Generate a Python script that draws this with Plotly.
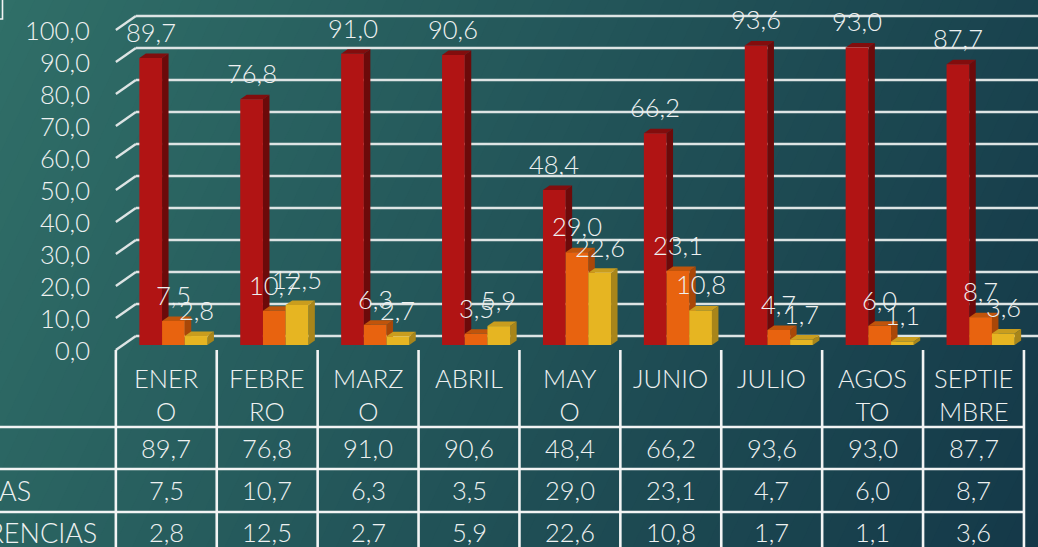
import plotly.graph_objects as go

# ---------------- data ----------------
categories = ["ENERO", "FEBRERO", "MARZO", "ABRIL", "MAYO", "JUNIO", "JULIO", "AGOSTO", "SEPTIEMBRE"]
category_labels = ["ENER<br>O", "FEBRE<br>RO", "MARZ<br>O", "ABRIL", "MAY<br>O", "JUNIO", "JULIO", "AGOS<br>TO", "SEPTIE<br>MBRE"]
series_names = ["ASISTENCIA", "INASISTENCIAS", "TRANSFERENCIAS"]
serie_1 = [89.7, 76.8, 91.0, 90.6, 48.4, 66.2, 93.6, 93.0, 87.7]
serie_2 = [7.5, 10.7, 6.3, 3.5, 29.0, 23.1, 4.7, 6.0, 8.7]
serie_3 = [2.8, 12.5, 2.7, 5.9, 22.6, 10.8, 1.7, 1.1, 3.6]
y_ticks = [0, 10, 20, 30, 40, 50, 60, 70, 80, 90, 100]

series = [serie_1, serie_2, serie_3]
front_colors = ["#b11414", "#e8630f", "#e6b522"]
side_colors = ["#6c0a0a", "#a94708", "#a8851a"]
top_colors = ["#820d0d", "#c0540b", "#c99d1e"]

FONT = "Lato"
FW = 300
TXT = "#eef1f1"
GRID = "#dde4e4"

# --------------- geometry (pixel scale of the linear axes) ---------------
W, H = 1038, 547
X0, SX = 173.4, 100.9     # pixel of category 0 (bar plane), pixels per category
Y0, SY = 345.0, 3.2       # pixel of value 0 (bar plane), pixels per unit


def px2x(px):
    return (px - X0) / SX


def py2v(py):
    return (Y0 - py) / SY


n = len(categories)
bargap = 0.325
bw = (1 - bargap) / 3
DDX, DDV = 6.5 / SX, 4.5 / SY          # bar depth
FX, FV = -7.1 / SX, -5.0 / SY          # front plane offset
BX, BV = 12.9 / SX, 9.0 / SY           # back wall offset

fmt = lambda v: f"{v:.1f}".replace(".", ",")


def font(size=25.5):
    return dict(family=FONT, size=size, color=TXT, weight=FW)


shapes = []
annotations = []

# background gradient
c0 = (48, 111, 104)
c1 = (20, 56, 72)
NB = 70
for k in range(NB):
    t0 = k / NB
    t1 = (k + 1) / NB + 0.004
    tm = (k + 0.5) / NB
    col = "rgb(%d,%d,%d)" % tuple(round(a + (b - a) * tm) for a, b in zip(c0, c1))
    ut0, ut1 = t0 / 0.8, t1 / 0.8
    ub0, ub1 = (t0 - 0.2) / 0.8, (t1 - 0.2) / 0.8
    if k == 0:
        ut0 = ub0 = -0.5
    if k == NB - 1:
        ut1 = ub1 = 1.5
    path = f"M {ut0},1.01 L {ut1},1.01 L {ub1},-0.01 L {ub0},-0.01 Z"
    shapes.append(dict(type="path", xref="paper", yref="paper", path=path,
                       fillcolor=col, line=dict(width=0), layer="below"))

# gridlines: back wall + left diagonals
for t in y_ticks:
    shapes.append(dict(type="line", xref="x", yref="y", layer="below",
                       x0=-0.5 + BX, x1=n - 0.5 + BX, y0=t + BV, y1=t + BV,
                       line=dict(color=GRID, width=2.4)))
    shapes.append(dict(type="line", xref="x", yref="y", layer="below",
                       x0=-0.5 + FX, x1=-0.5 + BX, y0=t + FV, y1=t + BV,
                       line=dict(color=GRID, width=2.4)))
    annotations.append(dict(x=-0.5 + FX, y=t + FV, xref="x", yref="y",
                            text=fmt(t), showarrow=False, xanchor="right",
                            yanchor="middle", xshift=-24, font=font()))

# 3D faces (side and top) of bars
for k, vals in enumerate(series):
    for i, v in enumerate(vals):
        xl = i - (1 - bargap) / 2 + k * bw
        xr = xl + bw
        side = (f"M {xr},0 L {xr + DDX},{DDV} L {xr + DDX},{v + DDV} "
                f"L {xr},{v} Z")
        top = (f"M {xl},{v} L {xl + DDX},{v + DDV} L {xr + DDX},{v + DDV} "
               f"L {xr},{v} Z")
        shapes.append(dict(type="path", xref="x", yref="y", path=side,
                           fillcolor=side_colors[k], line=dict(width=0),
                           layer="below"))
        shapes.append(dict(type="path", xref="x", yref="y", path=top,
                           fillcolor=top_colors[k], line=dict(width=0),
                           layer="below"))
        annotations.append(dict(x=(xl + xr) / 2, y=v, xref="x", yref="y",
                                text=fmt(v), showarrow=False, yanchor="middle",
                                yshift=26, font=font()))

fig = go.Figure()
for k, vals in enumerate(series):
    fig.add_trace(go.Bar(x=list(range(n)), y=vals, name=series_names[k],
                         marker=dict(color=front_colors[k], line=dict(width=0)),
                         hoverinfo="skip"))

# ---------------- data table ----------------
TBL_TOP = py2v(350)
row_lines = [py2v(427), py2v(469), py2v(512)]
TBL_BOT = py2v(556)
xr_tab = n - 0.5 + FX
for ry in row_lines:
    shapes.append(dict(type="line", xref="x", yref="y", x0=px2x(-20), x1=xr_tab,
                       y0=ry, y1=ry, line=dict(color="#f2f4f4", width=2.6)))
for j in range(n + 1):
    xx = j - 0.5 + FX
    shapes.append(dict(type="line", xref="x", yref="y", x0=xx, x1=xx,
                       y0=TBL_TOP, y1=TBL_BOT, line=dict(color="#f2f4f4", width=2.6)))

for i, lab in enumerate(category_labels):
    annotations.append(dict(x=i + FX, y=py2v(361), xref="x", yref="y", text=lab,
                            showarrow=False, xanchor="center", yanchor="top",
                            font=font()))

row_centers = [py2v(448), py2v(490), py2v(532)]
label_ends = [-40, 33, 99]
for k, vals in enumerate(series):
    for i, v in enumerate(vals):
        annotations.append(dict(x=i + FX, y=row_centers[k], xref="x", yref="y",
                                text=fmt(v), showarrow=False, yanchor="middle",
                                font=font()))
    annotations.append(dict(x=px2x(label_ends[k]), y=row_centers[k], xref="x", yref="y",
                            text=series_names[k], showarrow=False, xanchor="right",
                            yanchor="middle", font=font(27)))

# small cropped frame at top-left corner
shapes.append(dict(type="rect", xref="paper", yref="paper", x0=-0.02, x1=2.5 / W,
                   y0=1 - 19 / H, y1=1.02, line=dict(color="#f2f4f4", width=1.6)))

fig.update_layout(
    width=W, height=H,
    margin=dict(l=0, r=0, t=0, b=0),
    paper_bgcolor="#235a5e", plot_bgcolor="rgba(0,0,0,0)",
    barmode="group", bargap=bargap, bargroupgap=0,
    showlegend=False,
    xaxis=dict(range=[px2x(0), px2x(W)], visible=False, fixedrange=True),
    yaxis=dict(range=[py2v(H), py2v(0)], visible=False, fixedrange=True),
    shapes=shapes, annotations=annotations,
)

fig.write_html("out.html", config={"displayModeBar": False},
               post_script="document.body.style.margin='0';document.body.style.overflow='hidden';")
